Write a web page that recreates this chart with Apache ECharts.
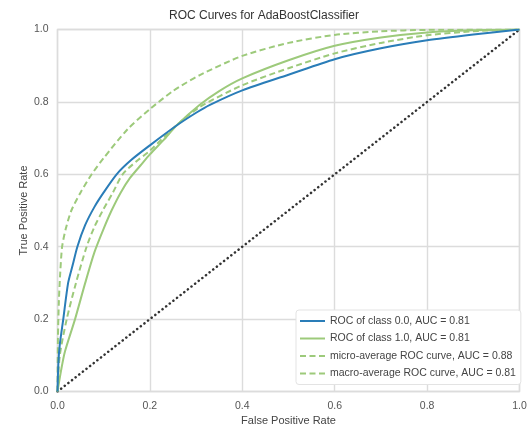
<!DOCTYPE html>
<html>
<head>
<meta charset="utf-8">
<script src="https://cdn.jsdelivr.net/npm/echarts@6/dist/echarts.min.js"></script>
<style>
  html, body { margin: 0; padding: 0; background: #fff; }
  #chart { width: 528px; height: 427px; }
</style>
</head>
<body>
<div id="chart"></div>
<script>
// values
const class0Fpr = [0, 0.002, 0.005, 0.0125, 0.023, 0.033, 0.043, 0.06, 0.08, 0.1, 0.128, 0.16, 0.2, 0.257, 0.3, 0.33, 0.4, 0.5, 0.6, 0.7, 0.8, 0.9, 1]
const class0Tpr = [0, 0.08, 0.13, 0.2, 0.3, 0.35, 0.4, 0.46, 0.51, 0.55, 0.6, 0.64, 0.68, 0.734, 0.77, 0.792, 0.832, 0.875, 0.918, 0.948, 0.97, 0.986, 1]

const class1Fpr = [0, 0.008, 0.016, 0.038, 0.06, 0.08, 0.1, 0.117, 0.137, 0.157, 0.18, 0.2, 0.23, 0.257, 0.308, 0.35, 0.4, 0.5, 0.6, 0.7, 0.8, 0.9, 1]
const class1Tpr = [0, 0.06, 0.11, 0.2, 0.3, 0.385, 0.45, 0.5, 0.55, 0.59, 0.625, 0.655, 0.695, 0.734, 0.792, 0.83, 0.865, 0.915, 0.955, 0.978, 0.992, 0.998, 1]

const microFpr = [0, 0.001, 0.003, 0.006, 0.01, 0.018, 0.03, 0.05, 0.074, 0.1, 0.152, 0.2, 0.25, 0.308, 0.4, 0.5, 0.6, 0.7, 0.8, 1]
const microTpr = [0, 0.15, 0.25, 0.33, 0.4, 0.45, 0.5, 0.55, 0.6, 0.645, 0.725, 0.78, 0.83, 0.874, 0.927, 0.963, 0.985, 0.995, 0.999, 1]

const macroFpr = [0, 0.005, 0.02, 0.04, 0.063, 0.08, 0.098, 0.12, 0.141, 0.17, 0.2, 0.257, 0.308, 0.4, 0.5, 0.6, 0.7, 0.8, 0.9, 1]
const macroTpr = [0, 0.1, 0.2, 0.3, 0.4, 0.455, 0.5, 0.55, 0.6, 0.635, 0.665, 0.735, 0.786, 0.846, 0.893, 0.934, 0.963, 0.984, 0.995, 1]

const chanceFpr = [0, 1]
const chanceTpr = [0, 1]

const seriesNames = [
  'ROC of class 0.0, AUC = 0.81',
  'ROC of class 1.0, AUC = 0.81',
  'micro-average ROC curve, AUC = 0.88',
  'macro-average ROC curve, AUC = 0.81'
]

const font = "'Liberation Sans', Arial, sans-serif"
const blue = '#2a7db8'
const green = '#9dca7b'
const gridColor = '#dcdcdc'

const pairs = (xs, ys) => xs.map((x, i) => [x, ys[i]])

const chart = echarts.init(document.getElementById('chart'), null, { renderer: 'canvas' })

const axisCommon = {
  type: 'value',
  min: 0,
  max: 1,
  interval: 0.2,
  nameLocation: 'middle',
  nameMoveOverlap: false,
  nameTextStyle: { fontFamily: font, fontSize: 11, color: '#444' },
  axisLine: { show: false },
  axisTick: { show: false },
  axisLabel: {
    fontFamily: font,
    fontSize: 10.5,
    color: '#555',
    margin: 9,
    formatter: v => v.toFixed(1)
  },
  splitLine: { lineStyle: { color: gridColor, width: 1.4 } }
}

// same settings for every curve, only colour / dash change
const rocLine = (name, xs, ys, color, dashed) => ({
  name,
  type: 'line',
  symbol: 'none',
  showSymbol: false,
  smooth: 0.25,
  lineStyle: { color, width: 2, type: dashed ? [6, 3.5] : 'solid' },
  itemStyle: { color },
  data: pairs(xs, ys),
  z: color === blue ? 4 : 3
})

chart.setOption({
  animation: false,
  backgroundColor: '#fff',
  title: {
    text: 'ROC Curves for AdaBoostClassifier',
    left: 'center',
    top: 10,
    padding: 0,
    textStyle: { fontFamily: font, fontSize: 12, fontWeight: 'normal', color: '#333' }
  },
  grid: {
    left: 57.5,
    right: 8.5,
    top: 29.5,
    bottom: 35.5,
    outerBoundsMode: 'none',
    show: true,
    borderColor: gridColor,
    borderWidth: 1.4
  },
  xAxis: Object.assign({}, axisCommon, { name: 'False Positive Rate', nameGap: 24 }),
  yAxis: Object.assign({}, axisCommon, { name: 'True Positive Rate', nameGap: 28 }),
  legend: {
    data: seriesNames,
    orient: 'vertical',
    left: 296,
    top: 310,
    itemWidth: 25,
    itemHeight: 11,
    itemGap: 6.5,
    padding: [5.5, 5, 5.5, 3],
    itemStyle: { opacity: 0 },
    backgroundColor: '#fff',
    borderColor: '#e3e3e3',
    borderWidth: 1,
    borderRadius: 3,
    textStyle: { fontFamily: font, fontSize: 10.5, color: '#444' }
  },
  series: [
    rocLine(seriesNames[0], class0Fpr, class0Tpr, blue, false),
    rocLine(seriesNames[1], class1Fpr, class1Tpr, green, false),
    rocLine(seriesNames[2], microFpr, microTpr, green, true),
    rocLine(seriesNames[3], macroFpr, macroTpr, green, true),
    {
      name: 'chance',
      type: 'line',
      symbol: 'none',
      showSymbol: false,
      lineStyle: { color: '#333', width: 2.5, type: [0.1, 4.5], cap: 'round' },
      data: pairs(chanceFpr, chanceTpr),
      z: 2
    }
  ]
})
</script>
</body>
</html>
